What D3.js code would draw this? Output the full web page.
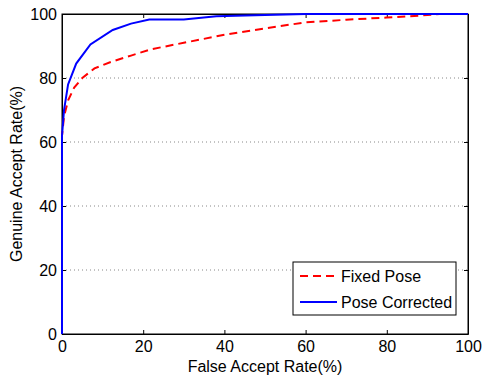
<!DOCTYPE html>
<html>
<head>
<meta charset="utf-8">
<script src="https://cdn.jsdelivr.net/npm/d3@7"></script>
<style>
body{margin:0;background:#fff;}
text{font-family:"Liberation Sans",Arial,sans-serif;}
</style>
</head>
<body>
<div id="chart"></div>
<script>
// ROC curves, FAR (%) vs GAR (%)
let seriesNames=["Fixed Pose","Pose Corrected"];
let seriesColors=["#ff0000","#0000ff"];
let fixedFar=[0,0,0.5,1.5,3,5,8,12,17,22,30,40,50,60,70,80,88,93,100];
let fixedGar=[0,62,68,73,77,80,83,85,87,89,91,93.5,95.5,97.4,98.2,98.9,99.5,100,100];
let corrFar=[0,0,0.5,1.5,3.5,7,12.5,17,21.5,30,38,50,60,100];
let corrGar=[0,62,70,78,84.5,90.5,95,97,98.3,98.3,99.3,99.7,100,100];
let xTicks=[0,20,40,60,80,100];
let yTicks=[0,20,40,60,80,100];

var margin={top:14,right:14,bottom:47,left:62},
    width=482-margin.left-margin.right,
    height=381-margin.top-margin.bottom;

var svg=d3.select("#chart").append("svg")
    .attr("width",482).attr("height",381)
  .append("g")
    .attr("transform","translate("+margin.left+","+margin.top+")");

var x=d3.scaleLinear().domain([0,100]).range([0,width]);
var y=d3.scaleLinear().domain([0,100]).range([height,0]);

// dotted horizontal grid
svg.selectAll(".grid").data(yTicks.filter(function(d){return d>0&&d<100;}))
  .enter().append("line")
    .attr("x1",0).attr("x2",width)
    .attr("y1",function(d){return y(d);}).attr("y2",function(d){return y(d);})
    .attr("stroke","#888").attr("stroke-width",1).attr("stroke-dasharray","1,3");

// axes, ticks pointing inward
svg.append("g").attr("transform","translate(0,"+height+")")
  .call(d3.axisBottom(x).tickValues(xTicks).tickSizeInner(-4).tickSizeOuter(0).tickPadding(7));
svg.append("g")
  .call(d3.axisLeft(y).tickValues(yTicks).tickSizeInner(-4).tickSizeOuter(0).tickPadding(5));
svg.append("g")
  .call(d3.axisTop(x).tickValues(xTicks).tickSizeInner(-4).tickSizeOuter(0).tickFormat(""));
svg.append("g").attr("transform","translate("+width+",0)")
  .call(d3.axisRight(y).tickValues(yTicks).tickSizeInner(-4).tickSizeOuter(0).tickFormat(""));
svg.selectAll(".domain").attr("stroke","#000");
svg.selectAll(".tick line").attr("stroke","#000");
svg.selectAll(".tick text").style("font-size","16px").attr("fill","#000");

svg.append("rect").attr("width",width).attr("height",height)
  .attr("fill","none").attr("stroke","#000").attr("stroke-width",1);

var line=d3.line().x(function(d){return x(d[0]);}).y(function(d){return y(d[1]);});
var fixedData=d3.zip(fixedFar,fixedGar);
var corrData=d3.zip(corrFar,corrGar);

svg.append("path").datum(fixedData).attr("d",line)
  .attr("fill","none").attr("stroke",seriesColors[0]).attr("stroke-width",2)
  .attr("stroke-dasharray","8,5");
svg.append("path").datum(corrData).attr("d",line)
  .attr("fill","none").attr("stroke",seriesColors[1]).attr("stroke-width",2);

// axis titles
svg.append("text").attr("x",width/2).attr("y",height+38)
  .attr("text-anchor","middle").style("font-size","16px").text("False Accept Rate(%)");
svg.append("text").attr("transform","translate(-40,"+(height/2)+")rotate(-90)")
  .attr("text-anchor","middle").style("font-size","16px").text("Genuine Accept Rate(%)");

// legend
var lg=svg.append("g").attr("transform","translate(231,248)");
lg.append("rect").attr("width",163).attr("height",53)
  .attr("fill","#fff").attr("stroke","#000").attr("stroke-width",1);
seriesNames.forEach(function(name,i){
  var yy=14+i*26;
  lg.append("line").attr("x1",7).attr("x2",44).attr("y1",yy).attr("y2",yy)
    .attr("stroke",seriesColors[i]).attr("stroke-width",2)
    .attr("stroke-dasharray",i==0?"8,5":null);
  lg.append("text").attr("x",48).attr("y",yy+6).style("font-size","16px").text(name);
});
</script>
</body>
</html>
